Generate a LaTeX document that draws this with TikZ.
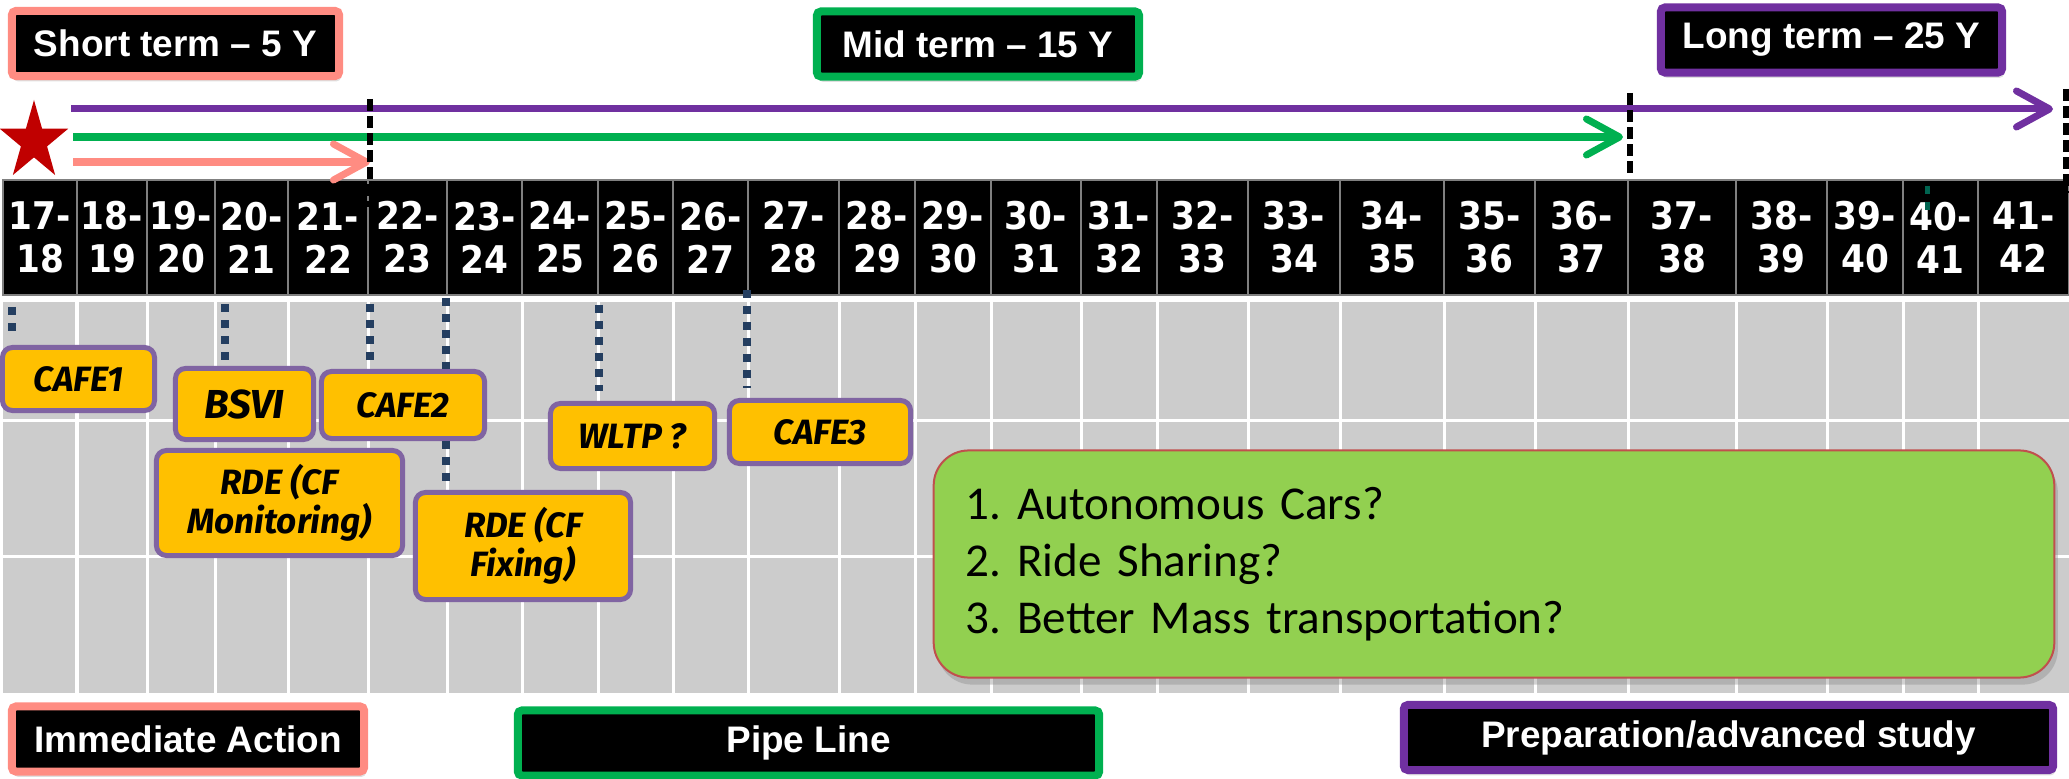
\documentclass[tikz,border=0pt]{standalone}
\usepackage{fontspec}
\setmainfont{Liberation Sans}
\newfontfamily\yearfont[FakeStretch=0.9]{DejaVu Sans}
\newfontfamily\tagfont{Fira Sans}
\newfontfamily\notefont{Carlito}
\usetikzlibrary{arrows.meta,shadows}
\definecolor{shortpink}{RGB}{255,140,130}
\definecolor{midgreen}{RGB}{0,176,80}
\definecolor{longpurple}{RGB}{112,48,160}
\definecolor{tagfill}{RGB}{255,192,0}
\definecolor{tagline}{RGB}{128,100,162}
\definecolor{leadblue}{RGB}{36,62,96}
\definecolor{gridgrey}{RGB}{204,204,204}
\definecolor{notefill}{RGB}{146,208,80}
\definecolor{noteline}{RGB}{192,80,77}
\definecolor{starred}{RGB}{192,0,0}
\definecolor{markteal}{RGB}{0,100,80}
\frenchspacing

\begin{document}
\begin{tikzpicture}[x=0.01cm, y=-0.01cm,
  termbox/.style={fill=black, line width=0.08cm, rounded corners=0.04cm, minimum height=0.65cm, inner sep=0pt, text=white, font=\bfseries\fontsize{10.5}{12}\selectfont, drop shadow={shadow xshift=0.5pt, shadow yshift=-1.5pt, opacity=0.25}},
  span/.style={line width=0.07cm, -{Straight Barb[length=0.33cm, width=0.36cm, round]}},
  cut/.style={line width=0.06cm, dash pattern=on 0.12cm off 0.05cm},
  yearcell/.style={fill=black, draw=gray, line width=0.5pt, minimum height=1.15cm, inner sep=0pt, text=white, align=center, font=\yearfont\bfseries\fontsize{10.85}{12.2}\selectfont},
  tag/.style={fill=tagfill, draw=tagline, line width=0.05cm, rounded corners=0.1cm, inner sep=0pt, align=center, font=\tagfont\bfseries\itshape\fontsize{10}{11}\selectfont},
  lead/.style={draw=leadblue, line width=0.08cm, dash pattern=on 0.075cm off 0.085cm}]

\useasboundingbox (0,0) rectangle (2069,779);

\fill[gridgrey] (3,302) rectangle (2069,693);
\foreach \x in {77,147,215,288,368,447,522,598,673,748,839,915,991,1081,1157,1248,1340,1444,1535,1628,1736,1827,1903,1978}
  \draw[white, line width=0.03cm] (\x,302) to (\x,693);
\foreach \y in {420,556}
  \draw[white, line width=0.03cm] (3,\y) to (2069,\y);

\foreach \a/\b [count=\i] in {3/77,77/147,147/215,215/288,288/368,368/447,447/522,522/598,598/673,673/748,748/839,839/915,915/991,991/1081,1081/1157,1157/1248,1248/1340,1340/1444,1444/1535,1535/1628,1628/1736,1736/1827,1827/1903,1903/1978,1978/2069}
{
  \pgfmathsetmacro\w{(\b-\a)/100}
  \pgfmathtruncatemacro\t{\i+16}
  \pgfmathtruncatemacro\n{\i+17}
  \node[yearcell, minimum width=\w cm] (y\i) at ({(\a+\b)/2},237.5) {\t-\\\n};
}
\draw[lead, draw=markteal, line width=0.05cm] (1927,186) to (1927,210);

\node[termbox, draw=shortpink, minimum width=3.27cm] (short) at (175.5,43.5) {Short term – 5 Y};
\node[termbox, draw=midgreen, minimum width=3.22cm] (mid) at (978,44) {Mid term – 15 Y};
\node[termbox, draw=longpurple, minimum width=3.41cm] (long) at (1831.5,40) {Long term – 25 Y};

\fill[starred, shift={(34,141.5)}] (-90:36 and 41.5) -- (-54:13.75 and 15.85) -- (-18:36 and 41.5) -- (18:13.75 and 15.85) -- (54:36 and 41.5) -- (90:13.75 and 15.85) -- (126:36 and 41.5) -- (162:13.75 and 15.85) -- (198:36 and 41.5) -- (234:13.75 and 15.85) -- cycle;

\coordinate (go) at (71,109);
\coordinate (go2) at (73,137);
\coordinate (go3) at (73,162);
\coordinate (end25) at (2053,109);
\coordinate (end15) at (1623,137);
\coordinate (end5) at (370,162);
\draw[span, longpurple] (go) to (end25);
\draw[span, midgreen] (go2) to (end15);
\draw[span, shortpink] (go3) to (end5);
\draw[cut] (370,99) to (370,207);
\draw[cut] (1630,93) to (1630,173);
\draw[cut] (2066,89) to (2066,193);

\node[tag, minimum width=1.52cm, minimum height=0.63cm] (cafe1) at (78.5,379) {CAFE1};
\node[tag, minimum width=1.38cm, minimum height=0.71cm, font=\tagfont\bfseries\itshape\fontsize{11.5}{12}\selectfont] (bsvi) at (244.5,404) {BSVI};
\node[tag, minimum width=1.63cm, minimum height=0.67cm] (cafe2) at (403,405) {CAFE2};
\node[tag, minimum width=2.46cm, minimum height=1.05cm] (rdemon) at (279.5,503) {RDE (CF\\Monitoring)};
\node[tag, minimum width=2.15cm, minimum height=1.07cm] (rdefix) at (523,546) {RDE (CF\\Fixing)};
\node[tag, minimum width=1.64cm, minimum height=0.65cm] (wltp) at (632.5,436) {WLTP ?};
\node[tag, minimum width=1.81cm, minimum height=0.63cm] (cafe3) at (820,432) {CAFE3};

\coordinate (l1) at (12,307);
\coordinate (l2) at (225,304);
\coordinate (l3) at (370,304);
\coordinate (l4) at (446,298);
\coordinate (l5) at (599,305);
\coordinate (l6) at (747,290);
\draw[lead, shorten >=0.1cm] (l1) to (l1 |- cafe1.north);
\draw[lead, shorten >=0.06cm] (l2) to (l2 |- bsvi.north);
\draw[lead, shorten >=0.08cm] (l3) to (l3 |- cafe2.north);
\draw[lead] (l4) to (l4 |- cafe2.north);
\draw[lead, shorten >=0.08cm] (l4 |- cafe2.south) to (l4 |- rdefix.north);
\draw[lead, shorten >=0.1cm] (l5) to (l5 |- wltp.north);
\draw[lead, shorten >=0.1cm] (l6) to (l6 |- cafe3.north);

\node[fill=notefill, draw=noteline, line width=0.02cm, rounded corners=0.35cm, minimum height=2.27cm, text width=10.56cm, inner xsep=0.32cm, align=left, font=\notefont\fontsize{13.4}{16.2}\selectfont, drop shadow={shadow xshift=1pt, shadow yshift=-2pt, opacity=0.35}] (note) at (1494,564) {1. Autonomous Cars?\\2. Ride Sharing?\\3. Better Mass transportation?};

\node[termbox, draw=shortpink, minimum width=3.52cm] (now) at (188,739) {Immediate Action};
\node[termbox, draw=midgreen, minimum width=5.81cm] (pipe) at (808.5,743) {Pipe Line};
\node[termbox, draw=longpurple, minimum width=6.49cm] (prep) at (1728.5,737.5) {Preparation/advanced study};

\end{tikzpicture}
\end{document}
